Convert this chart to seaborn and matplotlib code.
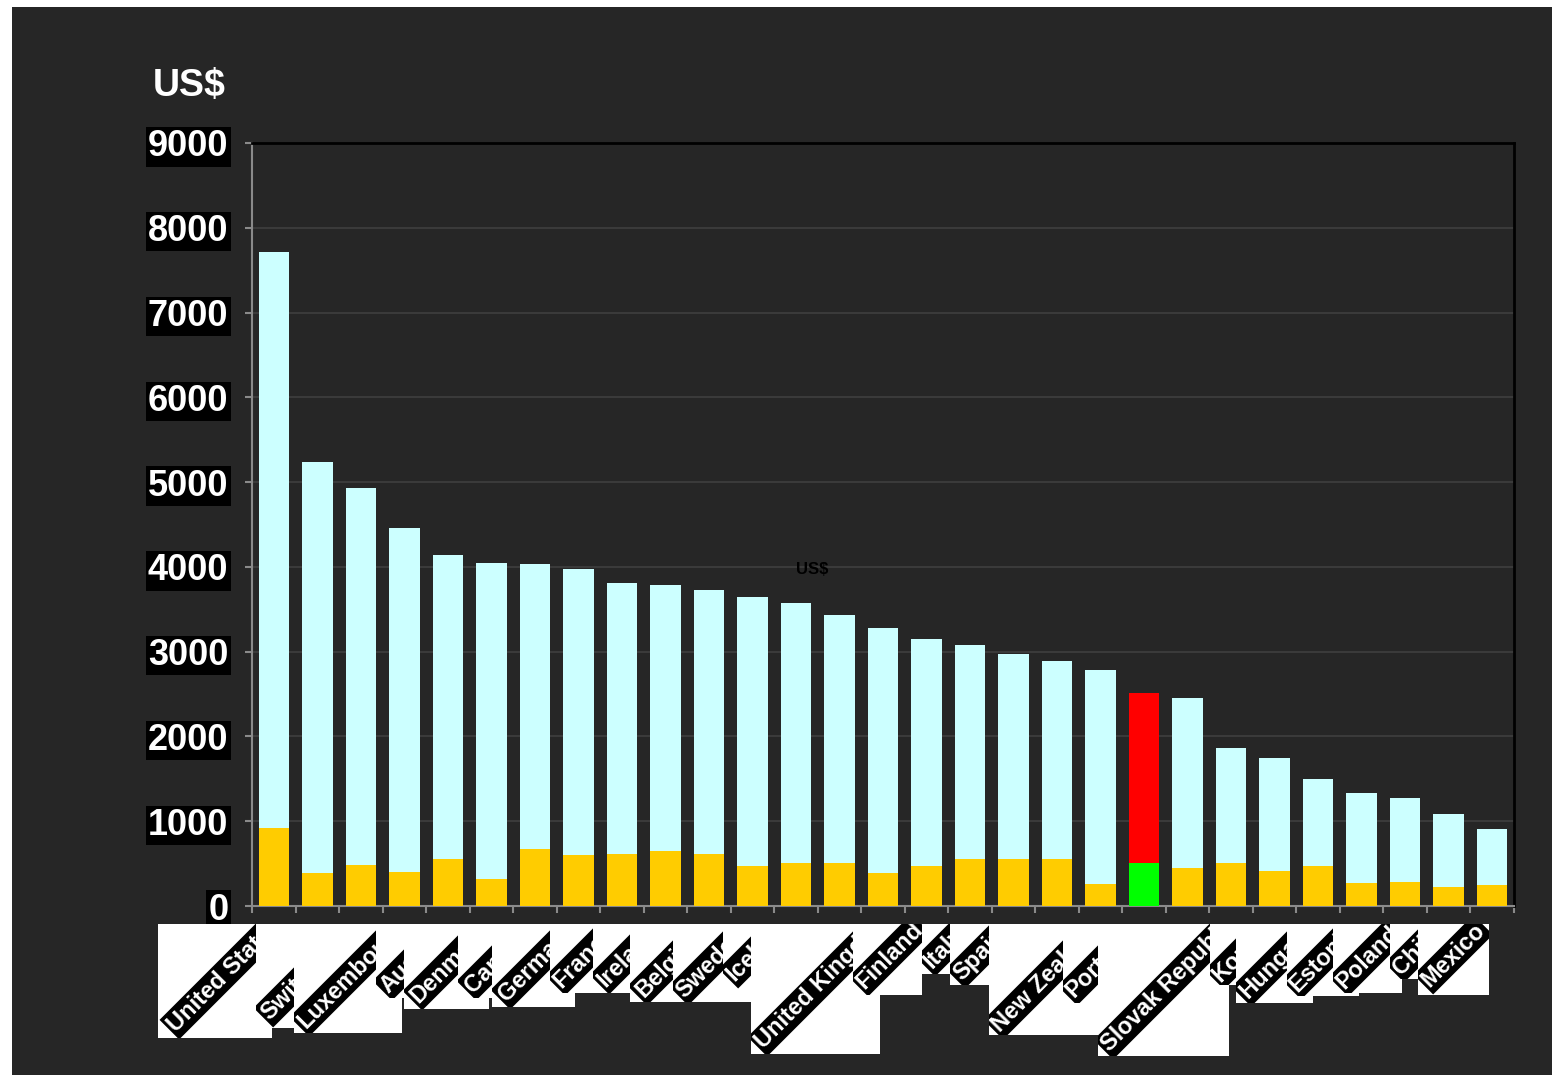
import numpy as np
import pandas as pd
import matplotlib
matplotlib.use("Agg")
import matplotlib.pyplot as plt
import seaborn as sns
from matplotlib.patches import Rectangle

# ---------------- data ----------------
countries = ["United States", "Norway", "Switzerland", "Luxembourg", "Austria",
             "Denmark", "Netherlands", "Canada", "Germany", "France", "Ireland",
             "Belgium", "Sweden", "Iceland", "United Kingdom", "Finland", "Italy",
             "Spain", "New Zealand", "Portugal", "Slovak Republic", "Korea",
             "Czech Republic", "Hungary", "Estonia", "Poland", "Chile", "Turkey",
             "Mexico"]
total_spend = [7720, 5240, 4930, 4460, 4140, 4040, 4030, 3970, 3810, 3790, 3730,
               3640, 3570, 3430, 3280, 3150, 3080, 2970, 2890, 2780, 2510, 2450,
               1860, 1750, 1500, 1330, 1270, 1080, 910]
lower_part = [920, 390, 480, 400, 550, 320, 670, 600, 610, 650, 610, 470, 510,
              510, 390, 470, 550, 550, 550, 260, 510, 450, 510, 410, 470, 270,
              280, 220, 250]
highlight = "Slovak Republic"
yticks = [0, 1000, 2000, 3000, 4000, 5000, 6000, 7000, 8000, 9000]

# ---------------- layout (pixels) for the clipped category labels ----------------
# country: (box_left, box_right, box_bottom, text_start_x, text_start_y)
label_layout = {
    "United States": (158, 272, 1038, 171, 1028),
    "Switzerland": (256, 294, 1028, 265, 1016),
    "Luxembourg": (294, 402, 1033, 301, 1025),
    "Austria": (376, 404, 998, 384, 989),
    "Denmark": (404, 489, 1009, 414, 999),
    "Canada": (458, 492, 998, 468, 989),
    "Germany": (492, 575, 1007, 502, 998),
    "France": (550, 593, 993, 557, 984),
    "Ireland": (593, 630, 993, 601, 983),
    "Belgium": (630, 673, 1002, 639, 994),
    "Sweden": (673, 723, 1002, 680, 994),
    "Iceland": (723, 751, 1002, 730, 977),
    "United Kingdom": (751, 880, 1054, 759, 1045),
    "Finland": (853, 922, 995, 860, 985),
    "Italy": (922, 950, 974, 927, 965),
    "Spain": (950, 989, 985, 957, 977),
    "New Zealand": (989, 1098, 1035, 995, 1028),
    "Portugal": (1063, 1098, 1003, 1069, 994),
    "Slovak Republic": (1098, 1229, 1056, 1105, 1048),
    "Korea": (1210, 1236, 985, 1216, 978),
    "Hungary": (1236, 1313, 1003, 1243, 995),
    "Estonia": (1287, 1359, 996, 1293, 988),
    "Poland": (1333, 1402, 993, 1340, 985),
    "Chile": (1390, 1418, 979, 1396, 971),
    "Mexico": (1418, 1489, 995, 1425, 983),
}

W, H = 1552, 1075
BG = "#262626"


def fx(x):
    return x / W


def fy(y):
    return 1 - y / H


fig = plt.figure(figsize=(W / 100, H / 100), dpi=100, facecolor="white")
fig.add_artist(Rectangle((fx(12), 0), 1 - fx(12), fy(7), transform=fig.transFigure,
                         facecolor=BG, edgecolor="none", zorder=-10))

ax = fig.add_axes([fx(252), fy(906), fx(1514) - fx(252), fy(143) - fy(906)])
ax.set_facecolor(BG)

df = pd.DataFrame({"country": countries, "total": total_spend, "lower": lower_part})
upper_pal = {c: ("#FF0000" if c == highlight else "#CCFFFF") for c in countries}
lower_pal = {c: ("#00FF00" if c == highlight else "#FFCC00") for c in countries}

sns.barplot(data=df, x="country", y="total", hue="country", palette=upper_pal,
            legend=False, width=0.7, saturation=1, linewidth=0, ax=ax, zorder=3)
sns.barplot(data=df, x="country", y="lower", hue="country", palette=lower_pal,
            legend=False, width=0.7, saturation=1, linewidth=0, ax=ax, zorder=4)

ax.set_xlim(-0.5, len(countries) - 0.5)
ax.set_ylim(0, 9000)
ax.set_xlabel("")
ax.set_ylabel("")

ax.set_xticks(np.arange(-0.5, len(countries), 1.0))
ax.set_xticklabels([])
ax.tick_params(axis="x", length=5, width=1.5, color="#8a8a8a", direction="out")

ax.set_yticks(yticks)
ax.set_yticklabels([str(v) for v in yticks], fontsize=26, fontweight="bold",
                   color="white", family="Liberation Sans")
for lbl in ax.get_yticklabels():
    lbl.set_bbox(dict(facecolor="black", edgecolor="none", boxstyle="square,pad=0.06"))
ax.tick_params(axis="y", length=5, width=1.5, color="#8a8a8a", pad=12)

ax.yaxis.grid(True, color="#3a3a3a", lw=1.5)
ax.xaxis.grid(False)
ax.set_axisbelow(True)

for s in ("left", "bottom"):
    ax.spines[s].set_color("#8a8a8a")
    ax.spines[s].set_linewidth(1.5)
for s in ("top", "right"):
    ax.spines[s].set_color("black")
    ax.spines[s].set_linewidth(2)

# axis title
fig.text(fx(226), fy(86), "US$", ha="right", va="center", fontsize=27,
         fontweight="bold", color="white", family="Liberation Sans")
# stray dark chart title
fig.text(fx(812), fy(570), "US$", ha="center", va="center", fontsize=12,
         fontweight="bold", color="#000000", family="Liberation Sans")

# category labels: white boxes with clipped, rotated black-band labels
z = 20
for name in countries:
    if name not in label_layout:
        continue
    x0, x1, yb, sx, sy = label_layout[name]
    box = Rectangle((fx(x0), fy(yb)), fx(x1) - fx(x0), fy(924) - fy(yb),
                    transform=fig.transFigure, facecolor="white", edgecolor="none",
                    zorder=z)
    fig.add_artist(box)
    t = fig.text(fx(sx), fy(sy), name, rotation=45, rotation_mode="anchor",
                 ha="left", va="center", color="white", fontsize=17,
                 fontweight="bold", family="Liberation Sans", zorder=z + 1,
                 bbox=dict(facecolor="black", edgecolor="none",
                           boxstyle="square,pad=0.1"))
    clip = Rectangle((fx(x0), fy(yb)), fx(x1) - fx(x0), fy(924) - fy(yb),
                     transform=fig.transFigure)
    t.set_clip_path(clip)
    z += 2

fig.savefig("out.png", dpi=100, facecolor="white")
